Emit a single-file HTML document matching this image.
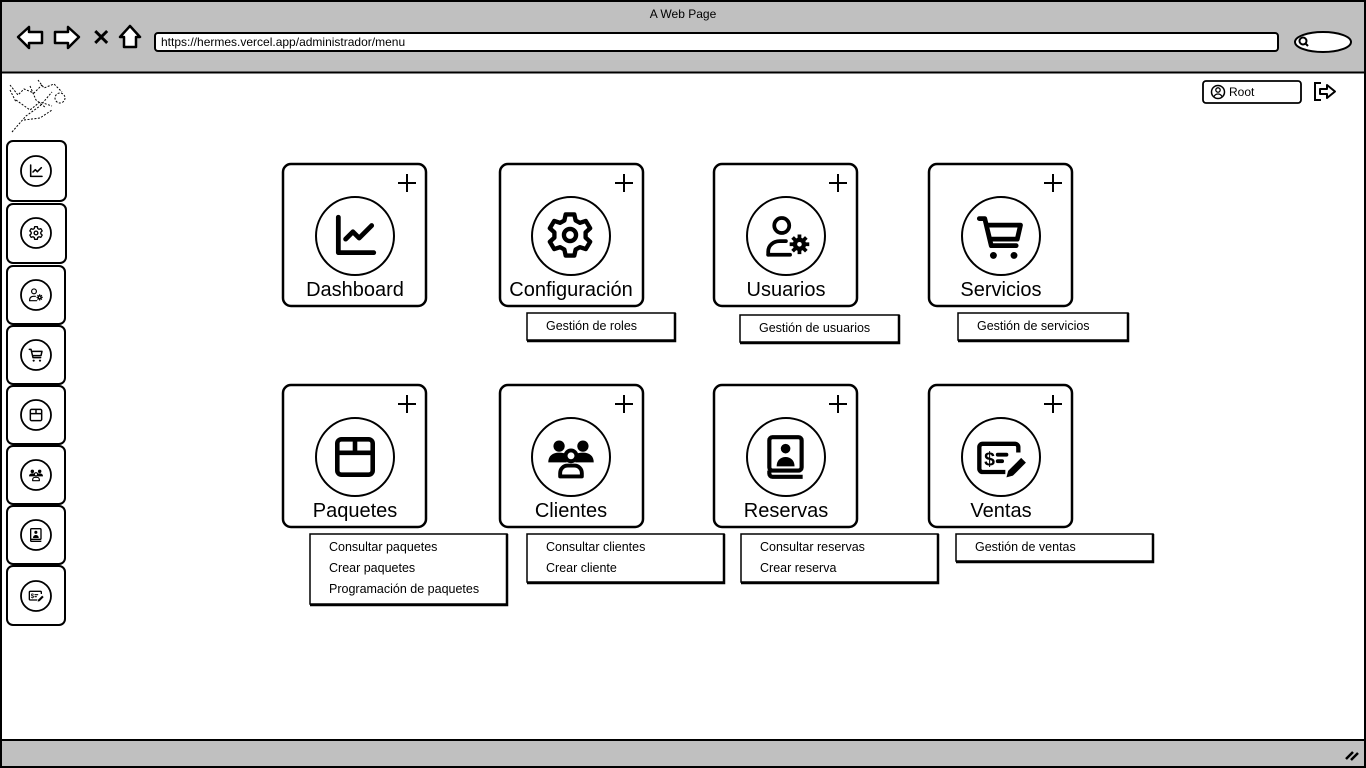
<!DOCTYPE html>
<html><head><meta charset="utf-8"><style>
html,body{margin:0;padding:0;background:#fff;width:1366px;height:768px;overflow:hidden}
svg{display:block}
text{font-family:"Liberation Sans",sans-serif;fill:#000}
</style></head><body>
<svg width="1366" height="768" viewBox="0 0 1366 768" xmlns="http://www.w3.org/2000/svg">
<defs>
<symbol id="chart" viewBox="0 0 24 24"><path d="M4 3V20H21" fill="none" stroke="#000" stroke-width="2.3" stroke-linecap="round" stroke-linejoin="round"/><path d="M7.5 13.5L11 10L14 13L20 7" fill="none" stroke="#000" stroke-width="2.3" stroke-linecap="round" stroke-linejoin="round"/></symbol>
<symbol id="gear" viewBox="0 0 24 24"><path d="M10 2.5h4l.6 2.8 2 1.1 2.7-.9 2 3.4-2.1 1.9v2.4l2.1 1.9-2 3.4-2.7-.9-2 1.1-.6 2.8h-4l-.6-2.8-2-1.1-2.7.9-2-3.4 2.1-1.9v-2.4L2.7 8.9l2-3.4 2.7.9 2-1.1z" fill="none" stroke="#000" stroke-width="2" stroke-linejoin="round"/><circle cx="12" cy="12" r="2.8" fill="none" stroke="#000" stroke-width="2"/></symbol>
<symbol id="usergear" viewBox="0 0 24 24"><circle cx="9" cy="6.5" r="3.6" fill="none" stroke="#000" stroke-width="1.8"/><path d="M2.5 20.5v-1.5c0-3 2.5-5 5.5-5h3" fill="none" stroke="#000" stroke-width="1.8" stroke-linecap="round"/><path d="M2.5 20.5H13" stroke="#000" stroke-width="1.8" stroke-linecap="round"/><circle cx="17.5" cy="15.5" r="3.2" fill="#000"/><g stroke="#000" stroke-width="1.8"><path d="M17.5 10.8v9.4M12.8 15.5h9.4M14.2 12.2l6.6 6.6M20.8 12.2l-6.6 6.6"/></g><circle cx="17.5" cy="15.5" r="1.1" fill="#fff"/></symbol>
<symbol id="cart" viewBox="0 0 24 24"><path d="M2 3.5H4.5L7.5 16H19" fill="none" stroke="#000" stroke-width="2.2" stroke-linecap="round" stroke-linejoin="round"/><path d="M5.5 6.5H21L19.5 13H7" fill="none" stroke="#000" stroke-width="2.2" stroke-linejoin="round"/><circle cx="8.5" cy="20.5" r="1.6" fill="#000"/><circle cx="18" cy="20.5" r="1.6" fill="#000"/></symbol>
<symbol id="box" viewBox="0 0 24 24"><rect x="3.5" y="3.5" width="17" height="17" rx="2" fill="none" stroke="#000" stroke-width="2.2"/><path d="M3.5 10H20.5M12 3.5V10" stroke="#000" stroke-width="2.2"/></symbol>
<symbol id="clients" viewBox="0 0 24 24"><circle cx="6.5" cy="6.5" r="2.6" fill="#000"/><circle cx="17.5" cy="6.5" r="2.6" fill="#000"/><path d="M1.5 14c0-3 2-4.5 5-4.5s3.5 1 3.5 1v3.5z" fill="#000"/><path d="M22.5 14c0-3-2-4.5-5-4.5s-3.5 1-3.5 1v3.5z" fill="#000"/><circle cx="12" cy="11" r="2.5" fill="none" stroke="#000" stroke-width="1.8"/><path d="M7 20.5v-1.5c0-2 1.5-3.5 3.5-3.5h3c2 0 3.5 1.5 3.5 3.5v1.5z" fill="none" stroke="#000" stroke-width="1.8" stroke-linejoin="round"/></symbol>
<symbol id="book" viewBox="0 0 24 24"><rect x="4" y="2.5" width="15.5" height="16" rx="1.5" fill="none" stroke="#000" stroke-width="2"/><path d="M4 18.5v1.5a1.5 1.5 0 0 0 1.5 1.5H20" fill="none" stroke="#000" stroke-width="2"/><circle cx="11.8" cy="8" r="2.3" fill="#000"/><path d="M7.5 16.5c0-3 2-4.5 4.3-4.5s4.3 1.5 4.3 4.5z" fill="#000"/></symbol>
<symbol id="sale" viewBox="0 0 24 24"><path d="M14 18H3.5a1.5 1.5 0 0 1-1.5-1.5v-10A1.5 1.5 0 0 1 3.5 5h15a1.5 1.5 0 0 1 1.5 1.5V9" fill="none" stroke="#000" stroke-width="2"/><text x="4.2" y="15" style="font-size:9px;font-weight:bold">$</text><path d="M10.5 10h4M10.5 13h2" stroke="#000" stroke-width="1.8" stroke-linecap="round"/><path d="M14.5 20.5l.8-3 6-6 2.2 2.2-6 6z" fill="#000"/></symbol>
</defs>

<!-- browser frame -->
<rect x="1" y="1" width="1364" height="766" fill="#fff" stroke="#000" stroke-width="2"/>
<rect x="2" y="2" width="1362" height="70" fill="#c0c0c0"/>
<line x1="1" y1="72.5" x2="1365" y2="72.5" stroke="#000" stroke-width="2"/>
<text x="683" y="18" text-anchor="middle" style="font-size:12px">A Web Page</text>
<path d="M18 37L29 27V32H42V43H29V48Z" fill="#fff" stroke="#000" stroke-width="2.5" stroke-linejoin="round"/>
<path d="M79 37L68 27V32H55V43H68V48Z" fill="#fff" stroke="#000" stroke-width="2.5" stroke-linejoin="round"/>
<text x="92" y="45" style="font-size:22px;font-weight:bold">✕</text>
<path d="M120 37L130 26L140 37H136V47H124V37Z" fill="#fff" stroke="#000" stroke-width="2.5" stroke-linejoin="round"/>
<rect x="155" y="33" width="1123" height="18" rx="3" fill="#fff" stroke="#000" stroke-width="2"/>
<text x="161" y="46" style="font-size:12px">https://hermes.vercel.app/administrador/menu</text>
<ellipse cx="1323" cy="42" rx="28" ry="10" fill="#fff" stroke="#000" stroke-width="2"/>
<circle cx="1303" cy="41" r="3.5" fill="none" stroke="#000" stroke-width="2"/><line x1="1305.5" y1="43.5" x2="1308" y2="46" stroke="#000" stroke-width="2"/>
<rect x="2" y="740" width="1362" height="26" fill="#c0c0c0"/>
<line x1="1" y1="740" x2="1365" y2="740" stroke="#000" stroke-width="2"/>
<path d="M1346 759l7-7M1351 760l7-7" stroke="#000" stroke-width="2.5"/>

<!-- logo scribble -->
<g stroke="#000" stroke-width="1" fill="none" stroke-dasharray="2 1.5">
<path d="M10 85l8 10 6-6 10 4 8-8M16 100l14 10 10-8 12 4M12 132l14-16 14-10 12-14M38 80l6 8 10-4 8 8M24 120l16-2 12-8"/>
<circle cx="60" cy="98" r="5"/><path d="M10 90l6 12M30 86l6 14 10 8"/>
</g>

<!-- root / logout -->
<rect x="1203" y="81" width="98" height="22" rx="3" fill="#fff" stroke="#000" stroke-width="1.8"/>
<circle cx="1218" cy="92" r="6.5" fill="none" stroke="#000" stroke-width="1.5"/><circle cx="1218" cy="90" r="2.2" fill="none" stroke="#000" stroke-width="1.3"/><path d="M1214 96.5c1-2 2.5-2.5 4-2.5s3 .5 4 2.5" fill="none" stroke="#000" stroke-width="1.3"/>
<text x="1229" y="96" style="font-size:12px">Root</text>
<path d="M1321 83h-6v17h6" fill="none" stroke="#000" stroke-width="2"/>
<path d="M1320 89h7v-4l8 6.5-8 6.5v-4h-7z" fill="none" stroke="#000" stroke-width="2" stroke-linejoin="round"/>

<!-- sidebar -->
<g fill="#fff" stroke="#000" stroke-width="2">
<rect x="7" y="141" width="59" height="60" rx="6"/><rect x="7" y="204" width="59" height="59" rx="6"/>
<rect x="7" y="266" width="58" height="58" rx="6"/><rect x="7" y="326" width="58" height="58" rx="6"/>
<rect x="7" y="386" width="58" height="58" rx="6"/><rect x="7" y="446" width="58" height="58" rx="6"/>
<rect x="7" y="506" width="58" height="58" rx="6"/><rect x="7" y="566" width="58" height="59" rx="6"/>
</g>
<g fill="none" stroke="#000" stroke-width="1.8">
<circle cx="36" cy="171" r="15"/><circle cx="36" cy="233" r="15"/><circle cx="36" cy="295" r="15"/><circle cx="36" cy="355" r="15"/>
<circle cx="36" cy="415" r="15"/><circle cx="36" cy="475" r="15"/><circle cx="36" cy="535" r="15"/><circle cx="36" cy="596" r="15"/>
</g>
<use href="#chart" x="28" y="163" width="16" height="16"/>
<use href="#gear" x="28" y="225" width="16" height="16"/>
<use href="#usergear" x="28" y="287" width="16" height="16"/>
<use href="#cart" x="28" y="347" width="16" height="16"/>
<use href="#box" x="28" y="407" width="16" height="16"/>
<use href="#clients" x="28" y="467" width="16" height="16"/>
<use href="#book" x="28" y="527" width="16" height="16"/>
<use href="#sale" x="28" y="588" width="16" height="16"/>

<!-- cards -->
<g fill="#fff" stroke="#000" stroke-width="2.5">
<rect x="283" y="164" width="143" height="142" rx="8"/><rect x="500" y="164" width="143" height="142" rx="8"/>
<rect x="714" y="164" width="143" height="142" rx="8"/><rect x="929" y="164" width="143" height="142" rx="8"/>
<rect x="283" y="385" width="143" height="142" rx="8"/><rect x="500" y="385" width="143" height="142" rx="8"/>
<rect x="714" y="385" width="143" height="142" rx="8"/><rect x="929" y="385" width="143" height="142" rx="8"/>
</g>
<g fill="none" stroke="#000" stroke-width="2">
<circle cx="355" cy="236" r="39"/><circle cx="571" cy="236" r="39"/><circle cx="786" cy="236" r="39"/><circle cx="1001" cy="236" r="39"/>
<circle cx="355" cy="457" r="39"/><circle cx="571" cy="457" r="39"/><circle cx="786" cy="457" r="39"/><circle cx="1001" cy="457" r="39"/>
</g>
<g stroke="#000" stroke-width="2">
<path d="M407 174v18M398 183h18"/><path d="M624 174v18M615 183h18"/><path d="M838 174v18M829 183h18"/><path d="M1053 174v18M1044 183h18"/>
<path d="M407 395v18M398 404h18"/><path d="M624 395v18M615 404h18"/><path d="M838 395v18M829 404h18"/><path d="M1053 395v18M1044 404h18"/>
</g>
<use href="#chart" x="330" y="211" width="50" height="50"/>
<use href="#gear" x="544" y="209" width="52" height="52"/>
<use href="#usergear" x="763" y="212" width="50" height="50"/>
<use href="#cart" x="975" y="211" width="52" height="52"/>
<use href="#box" x="330" y="432" width="50" height="50"/>
<use href="#clients" x="545" y="432" width="52" height="52"/>
<use href="#book" x="761" y="432" width="50" height="50"/>
<use href="#sale" x="975" y="433" width="52" height="52"/>
<g style="font-size:20px" text-anchor="middle">
<text x="355" y="296" text-anchor="middle" style="font-size:20px">Dashboard</text>
<text x="571" y="296" text-anchor="middle" style="font-size:20px">Configuración</text>
<text x="786" y="296" text-anchor="middle" style="font-size:20px">Usuarios</text>
<text x="1001" y="296" text-anchor="middle" style="font-size:20px">Servicios</text>
<text x="355" y="517" text-anchor="middle" style="font-size:20px">Paquetes</text>
<text x="571" y="517" text-anchor="middle" style="font-size:20px">Clientes</text>
<text x="786" y="517" text-anchor="middle" style="font-size:20px">Reservas</text>
<text x="1001" y="517" text-anchor="middle" style="font-size:20px">Ventas</text>
</g>

<!-- submenus -->
<g fill="#fff" stroke="#000" stroke-width="1.5">
<rect x="527" y="313" width="148" height="27"/><rect x="740" y="315" width="159" height="27"/><rect x="958" y="313" width="170" height="27"/>
<rect x="310" y="534" width="197" height="70"/><rect x="527" y="534" width="197" height="48"/><rect x="741" y="534" width="197" height="48"/><rect x="956" y="534" width="197" height="27"/>
</g>
<g stroke="#000" stroke-width="2.5" fill="none">
<path d="M675 313v28h-148"/><path d="M899 315v28h-159"/><path d="M1128 313v28h-170"/>
<path d="M507 534v71h-197"/><path d="M724 534v49h-197"/><path d="M938 534v49h-197"/><path d="M1153 534v28h-197"/>
</g>
<g style="font-size:12.5px">
<text x="546" y="330" style="font-size:12.5px">Gestión de roles</text>
<text x="759" y="332" style="font-size:12.5px">Gestión de usuarios</text>
<text x="977" y="330" style="font-size:12.5px">Gestión de servicios</text>
<text x="329" y="551" style="font-size:12.5px">Consultar paquetes</text>
<text x="329" y="572" style="font-size:12.5px">Crear paquetes</text>
<text x="329" y="593" style="font-size:12.5px">Programación de paquetes</text>
<text x="546" y="551" style="font-size:12.5px">Consultar clientes</text>
<text x="546" y="572" style="font-size:12.5px">Crear cliente</text>
<text x="760" y="551" style="font-size:12.5px">Consultar reservas</text>
<text x="760" y="572" style="font-size:12.5px">Crear reserva</text>
<text x="975" y="551" style="font-size:12.5px">Gestión de ventas</text>
</g>
</svg>
</body></html>
